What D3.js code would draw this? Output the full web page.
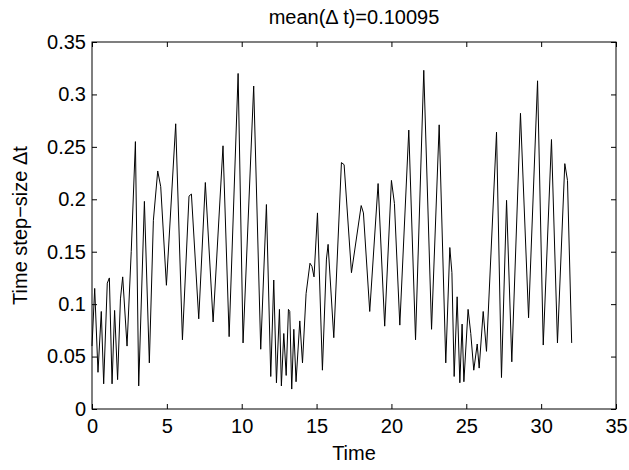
<!DOCTYPE html>
<html>
<head>
<meta charset="utf-8">
<script src="https://cdn.jsdelivr.net/npm/d3@7"></script>
<style>
body { margin: 0; background: #fff; }
svg { display: block; font-family: "Liberation Sans", Arial, sans-serif; }
.tick text { font-size: 20px; fill: #000; }
.domain { stroke: none; }
</style>
</head>
<body>
<svg id="chart" width="629" height="470"></svg>
<script>
// vertices (time, step size)
const times = [0, 0.18, 0.40, 0.62, 0.78, 1.02, 1.16, 1.34, 1.51, 1.71, 1.90, 2.05, 2.34, 2.62, 2.90, 3.12,
  3.50, 3.83, 4.10, 4.39, 4.59, 4.97, 5.59, 6.04, 6.48, 6.64, 7.13, 7.57, 8.09, 8.75, 9.16,
  9.76, 10.09, 10.80, 11.27, 11.65, 11.94, 12.14, 12.32, 12.52, 12.65, 12.81, 12.97, 13.12, 13.21,
  13.34, 13.48, 13.63, 13.88, 14.06, 14.30, 14.56, 14.69, 14.83, 15.06, 15.39, 15.66, 15.77,
  16.15, 16.66, 16.84, 17.33, 17.98, 18.13, 18.55, 19.11, 19.55, 20.00, 20.20, 20.56, 21.16,
  21.61, 22.16, 22.68, 23.19, 23.63, 23.90, 24.04, 24.19, 24.39, 24.57, 24.72, 24.84, 25.12,
  25.30, 25.50, 25.73, 25.86, 26.13, 26.35, 27.02, 27.35, 27.69, 28.04, 28.62, 29.16, 29.76,
  30.14, 30.69, 31.09, 31.58, 31.76, 32.04]
const stepSize = [0.06, 0.115, 0.035, 0.093, 0.024, 0.120, 0.125, 0.024, 0.094, 0.028, 0.105, 0.126, 0.060, 0.150, 0.255, 0.022,
  0.198, 0.044, 0.180, 0.227, 0.212, 0.118, 0.272, 0.066, 0.203, 0.205, 0.086, 0.216, 0.083, 0.251, 0.069,
  0.320, 0.063, 0.308, 0.057, 0.195, 0.031, 0.123, 0.025, 0.095, 0.022, 0.072, 0.032, 0.095, 0.093,
  0.019, 0.076, 0.026, 0.084, 0.044, 0.110, 0.139, 0.136, 0.126, 0.187, 0.037, 0.143, 0.157,
  0.068, 0.235, 0.233, 0.130, 0.194, 0.187, 0.093, 0.215, 0.079, 0.218, 0.196, 0.080, 0.266,
  0.066, 0.323, 0.076, 0.271, 0.044, 0.154, 0.130, 0.031, 0.107, 0.025, 0.081, 0.026, 0.095,
  0.072, 0.037, 0.062, 0.039, 0.093, 0.055, 0.264, 0.030, 0.199, 0.045, 0.282, 0.087, 0.313,
  0.061, 0.257, 0.063, 0.234, 0.218, 0.063]
const xTicks = [0, 5, 10, 15, 20, 25, 30, 35]
const yTicks = [0, 0.05, 0.1, 0.15, 0.2, 0.25, 0.3, 0.35]

const data = times.map((t, i) => ({ t: t, v: stepSize[i] }))

const mLeft = 92, mRight = 616, mTop = 42, mBottom = 409
const svg = d3.select('#chart')

const x = d3.scaleLinear().domain([0, 35]).range([mLeft, mRight])
const y = d3.scaleLinear().domain([0, 0.35]).range([mBottom, mTop])

const fmt = d => String(+(+d).toFixed(2))

// ticks point inwards on all four sides, like the original box
svg.append('g')
  .attr('transform', `translate(0,${mBottom})`)
  .call(d3.axisBottom(x).tickValues(xTicks).tickSize(-5).tickPadding(10).tickFormat(fmt))
svg.append('g')
  .attr('transform', `translate(0,${mTop})`)
  .call(d3.axisTop(x).tickValues(xTicks).tickSize(-5).tickFormat(''))
svg.append('g')
  .attr('transform', `translate(${mLeft},0)`)
  .call(d3.axisLeft(y).tickValues(yTicks).tickSize(-5).tickPadding(6).tickFormat(fmt))
svg.append('g')
  .attr('transform', `translate(${mRight},0)`)
  .call(d3.axisRight(y).tickValues(yTicks).tickSize(-5).tickFormat(''))

svg.selectAll('.tick line').attr('stroke', '#000')

svg.append('rect')
  .attr('x', mLeft).attr('y', mTop)
  .attr('width', mRight - mLeft).attr('height', mBottom - mTop)
  .attr('fill', 'none').attr('stroke', '#000').attr('stroke-width', 1)

const line = d3.line().x(d => x(d.t)).y(d => y(d.v))
svg.append('path')
  .datum(data)
  .attr('d', line)
  .attr('fill', 'none')
  .attr('stroke', '#000')
  .attr('stroke-width', 1)

svg.append('text')
  .attr('x', (mLeft + mRight) / 2).attr('y', 24)
  .attr('text-anchor', 'middle').attr('font-size', 20)
  .text('mean(\u0394 t)=0.10095')

svg.append('text')
  .attr('x', (mLeft + mRight) / 2).attr('y', 460)
  .attr('text-anchor', 'middle').attr('font-size', 20)
  .text('Time')

svg.append('text')
  .attr('transform', `translate(27,${(mTop + mBottom) / 2}) rotate(-90)`)
  .attr('text-anchor', 'middle').attr('font-size', 20)
  .text('Time step\u2212size \u0394t')
</script>
</body>
</html>
